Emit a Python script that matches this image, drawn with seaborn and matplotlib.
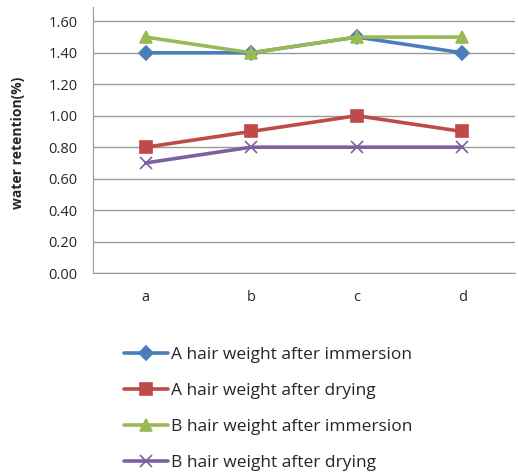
import numpy as np
import pandas as pd
import matplotlib.pyplot as plt
import seaborn as sns

samples = ["a", "b", "c", "d"]
series_names = ["A hair weight after immersion", "A hair weight after drying",
                "B hair weight after immersion", "B hair weight after drying"]
a_immersion = [1.4, 1.4, 1.5, 1.4]
a_drying = [0.8, 0.9, 1.0, 0.9]
b_immersion = [1.5, 1.4, 1.5, 1.5]
b_drying = [0.7, 0.8, 0.8, 0.8]
yticks = [0.0, 0.2, 0.4, 0.6, 0.8, 1.0, 1.2, 1.4, 1.6]

colors = ["#4A7EBB", "#BE4B48", "#98B954", "#7D60A0"]
markers = ["D", "s", "^", "x"]
msizes = [7, 8, 8, 8]

sns.set_style("white")
plt.rcParams['font.family'] = ['Open Sans', 'DejaVu Sans']

fig = plt.figure(figsize=(5.18, 4.73), dpi=100)
ax = fig.add_axes([0.1795, 0.4228, 0.8145, 0.562])

pos = np.arange(len(samples))
for name, vals, c, m, ms in zip(series_names, [a_immersion, a_drying, b_immersion, b_drying],
                                colors, markers, msizes):
    sns.lineplot(x=pos, y=vals, color=c, marker=m, markersize=ms,
                 markeredgecolor=c, markerfacecolor=c, markeredgewidth=1.2,
                 linewidth=2.6, label=name, ax=ax)

ax.set_xlim(-0.5, 3.5)
ax.set_ylim(0, 1.69)
ax.set_xticks(pos)
ax.set_xticklabels(samples, fontsize=10.5)
ax.set_yticks(yticks)
ax.set_yticklabels([f"{t:.2f}" for t in yticks], fontsize=10.5)
ax.yaxis.grid(True, color="#999999", linewidth=1)
ax.set_axisbelow(True)
ax.tick_params(axis="y", length=0, pad=11)
ax.tick_params(axis="x", length=0, pad=12)
for s in ["top", "right"]:
    ax.spines[s].set_visible(False)
ax.spines["left"].set_color("#999999")
ax.spines["bottom"].set_color("#999999")
ax.set_xlabel("")
ax.set_ylabel("water retention(%)", fontsize=10, fontweight="bold")
ax.yaxis.set_label_coords(-0.16, 0.49)

handles, labels = ax.get_legend_handles_labels()
ax.get_legend().remove()
fig.legend(handles, labels, loc="upper left", bbox_to_anchor=(0.21, 0.30),
           frameon=False, fontsize=12.5, labelspacing=1.15, handlelength=2.5,
           handletextpad=0.2)

fig.savefig("out.png", dpi=100)
